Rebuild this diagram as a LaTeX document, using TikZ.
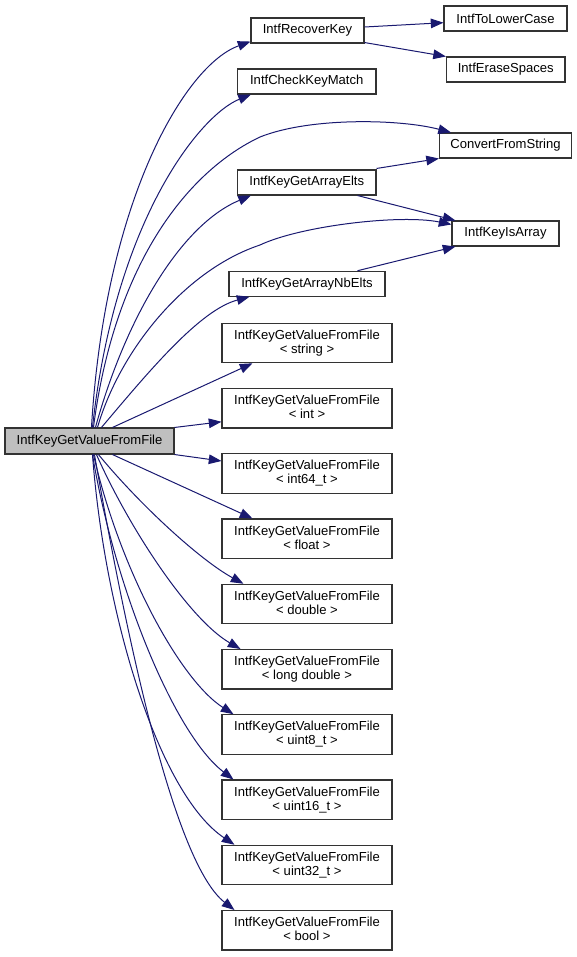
\documentclass[tikz,border=0pt]{standalone}
\usepackage{fontspec}
\setmainfont{Liberation Sans}
\usetikzlibrary{arrows.meta,calc}
\definecolor{edgeblue}{HTML}{191970}
\definecolor{maingray}{HTML}{BFBFBF}
\definecolor{boxline}{HTML}{333333}
\begin{document}
\begin{tikzpicture}[x=0.75pt,y=-0.75pt,
  box/.style={draw=boxline,line width=0.8pt,fill=white,inner sep=0pt,align=center,
    font=\fontsize{9.8}{10.6}\selectfont,minimum height=18.75pt},
  tbox/.style={box,minimum width=127.5pt,minimum height=29.6pt,
    execute at begin node={\rule{0pt}{12.1pt}},
    execute at end node={\rule[-2.1pt]{0pt}{2.1pt}}},
  mainbox/.style={box,fill=maingray,minimum width=126.75pt,minimum height=19.5pt},
  edge/.style={draw=edgeblue,line width=0.75pt,-{Triangle[length=9.5pt,width=7.2pt]}}]
\useasboundingbox (0,0) rectangle (577,957);

% nodes
\node[mainbox] (main) at (89.5,441) {IntfKeyGetValueFromFile};
\node[box,minimum width=84.75pt] (rk) at (307.5,30.5) {IntfRecoverKey};
\node[box,minimum width=92.25pt] (tlc) at (505.5,18.5) {IntfToLowerCase};
\node[box,minimum width=88.9pt] (es) at (505.75,69.5) {IntfEraseSpaces};
\node[box,minimum width=103.9pt] (ckm) at (306.75,81.5) {IntfCheckKeyMatch};
\node[box,minimum width=99pt] (cfs) at (505.5,145.5) {ConvertFromString};
\node[box,minimum width=103.9pt] (kae) at (306.75,182.5) {IntfKeyGetArrayElts};
\node[box,minimum width=80.25pt] (kia) at (505.5,233.5) {IntfKeyIsArray};
\node[box,minimum width=117pt] (kan) at (307,283.75) {IntfKeyGetArrayNbElts};

\node[tbox] (s1) at (307,343) {IntfKeyGetValueFromFile\\< string >};
\node[tbox] (s2) at (307,408.25) {IntfKeyGetValueFromFile\\< int >};
\node[tbox] (s3) at (307,473.5) {IntfKeyGetValueFromFile\\< int64\_t >};
\node[tbox] (s4) at (307,538.75) {IntfKeyGetValueFromFile\\< float >};
\node[tbox] (s5) at (307,604) {IntfKeyGetValueFromFile\\< double >};
\node[tbox] (s6) at (307,669.25) {IntfKeyGetValueFromFile\\< long double >};
\node[tbox] (s7) at (307,734.5) {IntfKeyGetValueFromFile\\< uint8\_t >};
\node[tbox] (s8) at (307,799.75) {IntfKeyGetValueFromFile\\< uint16\_t >};
\node[tbox] (s9) at (307,865) {IntfKeyGetValueFromFile\\< uint32\_t >};
\node[tbox] (s10) at (307,930.25) {IntfKeyGetValueFromFile\\< bool >};

% edges from main (upward)
\draw[edge] ($(main.north west)+(87,0)$) .. controls (105,200) and (185,65) .. ($(rk.south west)+(0,-2)$);
\draw[edge] ($(main.north west)+(88,0)$) .. controls (115,220) and (200,115) .. ($(ckm.south west)+(14,0)$);
\draw[edge] ($(main.north west)+(89,0)$) .. controls (115,260) and (190,170) .. (260,137)
   .. controls (310,117) and (400,119) .. ($(cfs.north west)+(12,0)$);
\draw[edge] ($(main.north west)+(91,0)$) .. controls (125,320) and (180,225) .. ($(kae.south west)+(14,0)$);
\draw[edge] ($(main.north west)+(93,0)$) .. controls (120,350) and (185,270) .. (260,245)
   .. controls (300,226) and (400,214) .. ($(kia.north west)+(0,4)$);
\draw[edge] ($(main.north west)+(97,0)$) .. controls (150,370) and (200,310) .. ($(kan.south west)+(21,0)$);
\draw[edge] ($(main.north west)+(108,0)$) -- ($(s1.south west)+(31,0)$);
\draw[edge] (main.north east) -- ($(s2.west)+(0,13.5)$);
% edges from main (downward)
\draw[edge] (main.south east) -- ($(s3.west)+(0,-12.5)$);
\draw[edge] ($(main.south west)+(108,0)$) -- ($(s4.north west)+(31,0)$);
\draw[edge] ($(main.south west)+(94,0)$) .. controls (140,505) and (200,560) .. ($(s5.north west)+(22,0)$);
\draw[edge] ($(main.south west)+(92,0)$) .. controls (130,530) and (190,620) .. ($(s6.north west)+(19,0)$);
\draw[edge] ($(main.south west)+(89,0)$) .. controls (120,570) and (180,680) .. ($(s7.north west)+(12,0)$);
\draw[edge] ($(main.south west)+(88,0)$) .. controls (115,590) and (175,735) .. ($(s8.north west)+(12,0)$);
\draw[edge] ($(main.south west)+(88,0)$) .. controls (105,620) and (160,795) .. ($(s9.north west)+(13,0)$);
\draw[edge] ($(main.south west)+(90,0)$) .. controls (120,600) and (170,860) .. ($(s10.north west)+(13,0)$);

% other edges
\draw[edge] ($(rk.east)+(0,-3.5)$) -- ($(tlc.west)+(0,4.2)$);
\draw[edge] ($(rk.south east)+(0,-1)$) -- (es.north west);
\draw[edge] ($(kae.north east)+(0,-1)$) -- (cfs.south west);
\draw[edge] ($(kae.south east)+(-19,0)$) -- ($(kia.north west)+(4,0)$);
\draw[edge] ($(kan.north east)+(-28,0)$) -- ($(kia.south west)+(4,0)$);
\end{tikzpicture}
\end{document}
